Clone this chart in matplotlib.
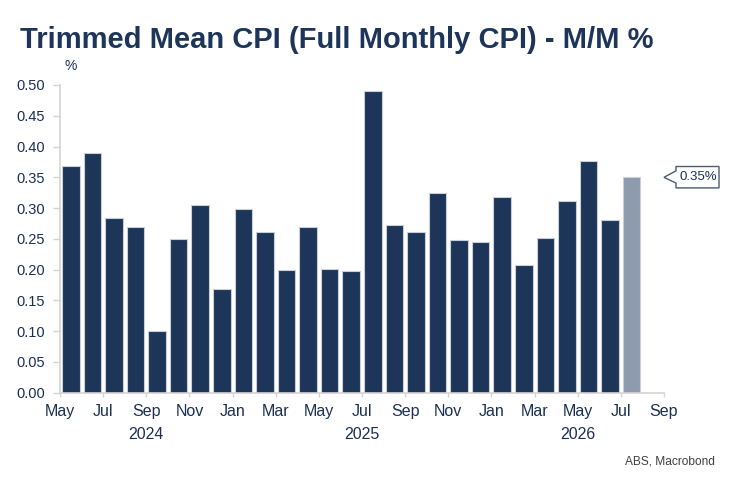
import matplotlib
matplotlib.use("Agg")
import matplotlib.pyplot as plt
import matplotlib.transforms as mtransforms
from matplotlib.patches import Polygon
from matplotlib import font_manager as fm

# -----------------------------
# Data (monthly, May 2024 - Jul 2026)
# -----------------------------
start_label = "May 2024"
mm_values = [0.368, 0.390, 0.284, 0.270, 0.100, 0.250, 0.305, 0.168,
             0.298, 0.261, 0.199, 0.270, 0.201, 0.198, 0.491, 0.272,
             0.261, 0.324, 0.248, 0.245, 0.318, 0.207, 0.252, 0.311,
             0.376, 0.280, 0.350]
n_months_axis = 28  # May 2024 .. Sep 2026
tick_labels = ["May", "Jul", "Sep", "Nov", "Jan", "Mar", "May", "Jul",
               "Sep", "Nov", "Jan", "Mar", "May", "Jul", "Sep"]
year_labels = ["2024", "2025", "2026"]
year_pos = [4, 14, 24]      # months from May 2024 (Sep 24, Jul 25, May 26)
jan_pos = [8, 20]

navy = "#1c3559"
light = "#8e9aad"
text_col = "#1b2f55"
axis_col = "#d4d4d4"

plt.rcParams["font.family"] = ["Liberation Sans", "DejaVu Sans"]

fig = plt.figure(figsize=(7.39, 4.92), dpi=100)
ax = fig.add_axes([60 / 739, 1 - 392.7 / 492, 604 / 739, 307.7 / 492])

x = [i + 0.5 for i in range(len(mm_values))]
colors = [navy] * (len(mm_values) - 1) + [light]
ax.bar(x, mm_values, width=0.82, color=colors, edgecolor="#c9cfd9",
       linewidth=0.8, zorder=2)

ax.set_xlim(0, n_months_axis)
ax.set_ylim(0, 0.5)
ax.set_yticks([i * 0.05 for i in range(11)])
ax.set_yticklabels([f"{i * 0.05:.2f}" for i in range(11)])
ax.set_xticks(list(range(0, n_months_axis + 1, 2)))
ax.set_xticklabels(tick_labels)
ax.set_xticks(jan_pos, minor=True)

for s in ["top", "right"]:
    ax.spines[s].set_visible(False)
for s in ["left", "bottom"]:
    ax.spines[s].set_color(axis_col)
    ax.spines[s].set_linewidth(1.2)

ax.tick_params(axis="y", length=5, width=1, color=axis_col, labelsize=10.5,
               labelcolor=text_col, pad=6)
ax.tick_params(axis="x", which="major", length=3, width=1, color=axis_col,
               labelsize=11.5, labelcolor=text_col, pad=5)
ax.tick_params(axis="x", which="minor", length=7, width=1, color=axis_col)

trans = mtransforms.blended_transform_factory(ax.transData, ax.transAxes)
for lab, pos in zip(year_labels, year_pos):
    ax.text(pos, -0.135, lab, transform=trans, ha="center", va="center",
            fontsize=11.5, color=text_col)

ax.text(66 / 739 - 60 / 739, 1.062, "%", transform=ax.transAxes,
        fontsize=10, color=text_col, ha="left", va="center")

# callout for latest value
last = mm_values[-1]
anchor = mtransforms.ScaledTranslation(n_months_axis, last, ax.transData)
ctrans = mtransforms.Affine2D() + anchor
verts = [(0, 0), (12, 6.5), (12, 10.8), (55, 10.8), (55, -10.6),
         (12, -10.6), (12, -5.8)]
ax.add_patch(Polygon(verts, closed=True, facecolor="white",
                     edgecolor="#4a5a78", linewidth=1, transform=ctrans,
                     clip_on=False, zorder=5))
ax.text(34, 0, f"{last:.2f}%", transform=ctrans, ha="center",
        va="center", fontsize=9.5, color=text_col, zorder=6, clip_on=False)

# title
names = {f.name for f in fm.fontManager.ttflist}
if "Liberation Sans Narrow" in names:
    tfam, tsize = "Liberation Sans Narrow", 25.5
else:
    tfam, tsize = "Liberation Sans", 21
fig.text(20 / 739, 1 - 48 / 492, "Trimmed Mean CPI (Full Monthly CPI) - M/M %",
         family=tfam, fontsize=tsize, fontweight="bold", color=navy,
         ha="left", va="baseline")

fig.text(715 / 739, 1 - 461 / 492, "ABS, Macrobond", fontsize=8.6,
         color="#404040", ha="right", va="center")

fig.savefig("out.png", dpi=100)
